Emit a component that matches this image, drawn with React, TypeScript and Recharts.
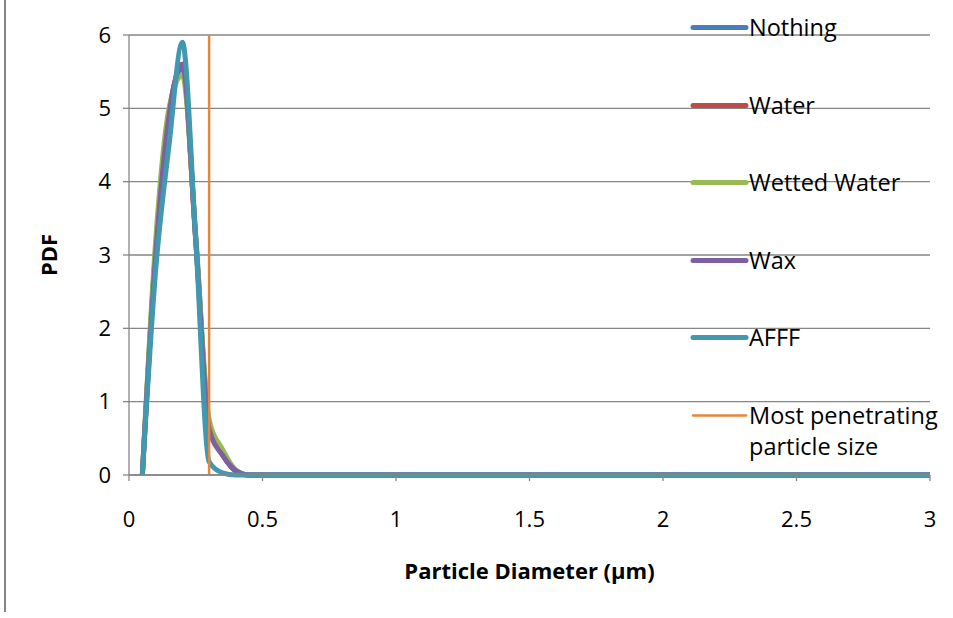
import { LineChart, Line, XAxis, YAxis, CartesianGrid, Legend } from 'recharts';

const diameters = [0.05, 0.1, 0.15, 0.2, 0.25, 0.3, 0.35, 0.4, 0.45, 0.5, 1, 1.5, 2, 2.5, 3];
const nothing = [0, 3.1, 4.95, 5.55, 3.25, 0.7, 0.3, 0.06, 0, 0, 0, 0, 0, 0, 0];
const water = [0, 3.05, 4.9, 5.6, 3.2, 0.65, 0.28, 0.05, 0, 0, 0, 0, 0, 0, 0];
const wettedWater = [0, 3.2, 5.0, 5.45, 3.25, 0.76, 0.35, 0.07, 0, 0, 0, 0, 0, 0, 0];
const wax = [0, 3.0, 4.9, 5.6, 3.2, 0.63, 0.27, 0.06, 0, 0, 0, 0, 0, 0, 0];
const afff = [0, 2.8, 4.5, 5.9, 3.2, 0.18, 0.03, 0, 0, 0, 0, 0, 0, 0, 0];

const seriesNames = ['Nothing', 'Water', 'Wetted Water', 'Wax', 'AFFF'];
const seriesValues = [nothing, water, wettedWater, wax, afff];
const seriesColors = ['#4A7EBB', '#BE4B48', '#98B954', '#7D60A0', '#4198AF'];

const mppName = 'Most penetrating particle size';
const mppDiameter = 0.3;
const mppRange = [0, 6];
const mppColor = '#E3873D';

const xTicks = [0, 0.5, 1, 1.5, 2, 2.5, 3];
const yTicks = [0, 1, 2, 3, 4, 5, 6];

const data = diameters.map((d, i) => {
  const row: Record<string, number> = { d };
  seriesNames.forEach((name, s) => {
    row[name] = seriesValues[s][i];
  });
  return row;
});

const mppData = mppRange.map((v) => ({ d: mppDiameter, mpp: v }));

const font = '"Open Sans", sans-serif';
const gridColor = '#868686';

const legendItems = [
  ...seriesNames.map((name, i) => ({ name, color: seriesColors[i], width: 5 })),
  { name: mppName, color: mppColor, width: 2.5 },
];

const ChartLegend = () => (
  <div style={{ position: 'relative', width: 262, height: 470 }}>
    {legendItems.map((item, i) => (
      <div
        key={item.name}
        style={{
          position: 'absolute',
          left: 0,
          top: i * 77.6,
          display: 'flex',
          alignItems: 'flex-start',
          fontFamily: font,
          fontSize: 23.5,
          lineHeight: '31px',
          color: '#000',
          textAlign: 'left',
        }}
      >
        <svg width={59} height={31} style={{ flex: 'none' }}>
          <line x1={3} x2={56} y1={15.5} y2={15.5} stroke={item.color} strokeWidth={item.width} strokeLinecap="round" />
        </svg>
        <div style={{ width: 200 }}>{item.name}</div>
      </div>
    ))}
  </div>
);

const YTitle = (props: any) => {
  const vb = props.viewBox || {};
  const cy = (vb.y || 0) + (vb.height || 0) / 2;
  return (
    <text
      x={48}
      y={cy}
      transform={`rotate(-90, 48, ${cy})`}
      textAnchor="middle"
      dominantBaseline="central"
      fontFamily={font}
      fontWeight="bold"
      fontSize={22}
      fill="#000"
    >
      PDF
    </text>
  );
};

export default function App() {
  return (
    <div style={{ position: 'absolute', left: 0, top: 0, width: 953, height: 618, background: '#fff' }}>
      <div style={{ position: 'absolute', left: 4, top: 0, width: 1.5, height: 612, background: gridColor }} />
      <LineChart
        width={953}
        height={618}
        data={data}
        margin={{ top: 35, right: 23, left: 0, bottom: 0 }}
        style={{ fontFamily: font }}
      >
        <CartesianGrid vertical={false} stroke={gridColor} strokeWidth={1.3} />
        <XAxis
          dataKey="d"
          type="number"
          domain={[0, 3]}
          ticks={xTicks}
          height={143}
          tick={{ fill: '#000', fontSize: 22, fontFamily: font }}
          tickSize={6}
          tickMargin={30}
          axisLine={{ stroke: gridColor, strokeWidth: 1.3 }}
          tickLine={{ stroke: gridColor, strokeWidth: 1.3 }}
          allowDuplicatedCategory={false}
          label={{
            value: 'Particle Diameter (µm)',
            position: 'insideBottom',
            offset: 39,
            fill: '#000',
            fontSize: 22,
            fontWeight: 'bold',
            fontFamily: font,
          }}
        />
        <YAxis
          type="number"
          domain={[0, 6]}
          ticks={yTicks}
          width={129}
          tick={{ fill: '#000', fontSize: 22, fontFamily: font }}
          tickSize={6}
          tickMargin={12}
          axisLine={{ stroke: gridColor, strokeWidth: 1.3 }}
          tickLine={{ stroke: gridColor, strokeWidth: 1.3 }}
          label={<YTitle />}
        />
        {seriesNames.map((name, i) => (
          <Line
            key={name}
            dataKey={name}
            name={name}
            type="monotone"
            stroke={seriesColors[i]}
            strokeWidth={5}
            dot={false}
            isAnimationActive={false}
          />
        ))}
        <Line
          data={mppData}
          dataKey="mpp"
          name={mppName}
          type="linear"
          stroke={mppColor}
          strokeWidth={2.5}
          dot={false}
          isAnimationActive={false}
        />
        <Legend
          layout="vertical"
          align="center"
          verticalAlign="middle"
          content={<ChartLegend />}
          wrapperStyle={{ position: 'absolute', left: 690, top: 12, width: 262, height: 470 }}
        />
      </LineChart>
    </div>
  );
}
